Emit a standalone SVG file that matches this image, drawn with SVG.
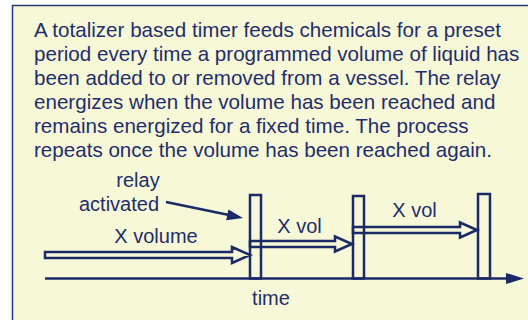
<svg xmlns="http://www.w3.org/2000/svg" width="528" height="320" viewBox="0 0 528 320">
<style>
.t{font-family:"Liberation Sans",Arial,sans-serif;font-size:20px;fill:#1F2D6B}
.h{font-size:20.6px}
.ln{stroke:#1A2A66;stroke-width:2.5;fill:none}
.ha{stroke:#1A2A66;stroke-width:2.5;fill:#F7F8D8;stroke-linejoin:miter}
.fh{fill:#1A2A66;stroke:none}
</style>
<rect x="0" y="0" width="528" height="320" fill="#FFFFFF"/>
<rect id="frame" x="12.5" y="5.5" width="530" height="330" fill="#F7F8D8" stroke="#2A3A70" stroke-width="1.5"/>
<g id="description" class="t h">
<text x="34" y="36.7">A totalizer based timer feeds chemicals for a preset</text>
<text x="34" y="60.7">period every time a programmed volume of liquid has</text>
<text x="34" y="84.7">been added to or removed from a vessel. The relay</text>
<text x="34" y="108.7">energizes when the volume has been reached and</text>
<text x="34" y="132.7">remains energized for a fixed time. The process</text>
<text x="34" y="156.7">repeats once the volume has been reached again.</text>
</g>
<g id="connectors">
<polygon class="ha" points="45,252 232,252 232,247 250,255 232,263 232,258 45,258"/>
<polygon class="ha" points="250,241 335,241 335,236.5 352,244 335,251.5 335,247 250,247"/>
<polygon class="ha" points="353,227 460,227 460,222.5 477,230 460,237.5 460,233 353,233"/>
<line class="ln" x1="166" y1="202" x2="229" y2="215"/>
<polygon class="fh" points="243,218 228.4,209.4 226.2,220.2"/>
</g>
<g id="axis">
<line class="ln" x1="45" y1="278.5" x2="510" y2="278.5"/>
<polygon class="fh" points="524,278.5 506,273 506,284"/>
</g>
<g id="bar1"><rect class="ln" x="250" y="195" width="11" height="83.5"/></g>
<g id="bar2"><rect class="ln" x="353" y="196" width="11" height="82.5"/></g>
<g id="bar3"><rect class="ln" x="478" y="194" width="12" height="84.5"/></g>
<g id="labels" class="t">
<text x="138" y="186.7" text-anchor="middle">relay</text>
<text x="119" y="210.7" text-anchor="middle">activated</text>
<text x="156" y="242.7" text-anchor="middle">X volume</text>
<text x="299.5" y="233" text-anchor="middle">X vol</text>
<text x="414.5" y="217" text-anchor="middle">X vol</text>
<text x="271" y="305" text-anchor="middle">time</text>
</g>
</svg>
